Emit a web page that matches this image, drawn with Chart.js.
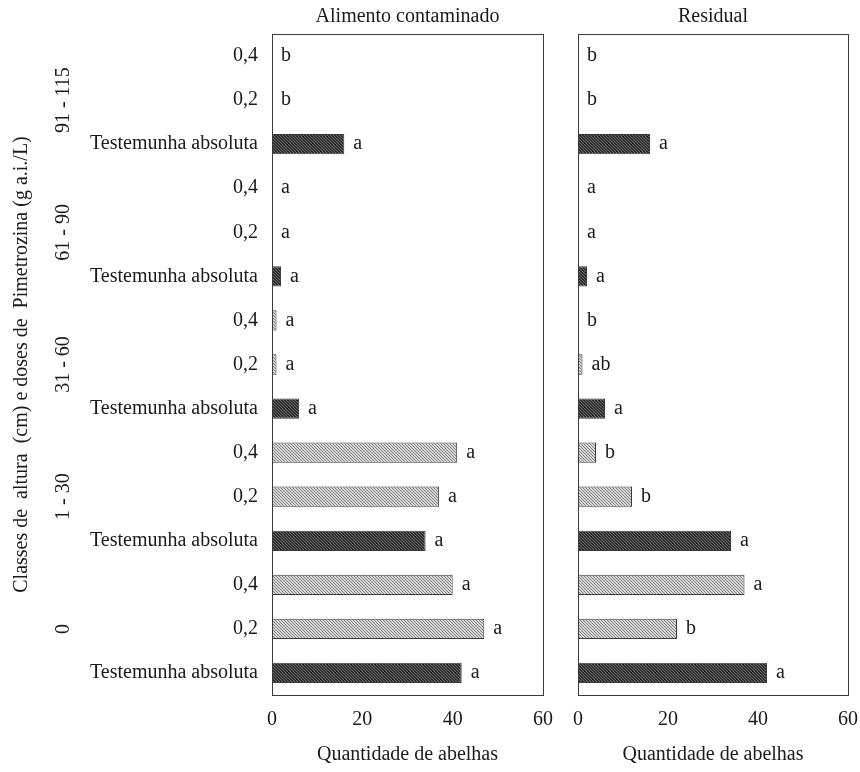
<!DOCTYPE html>
<html>
<head>
<meta charset="utf-8">
<script src="https://cdn.jsdelivr.net/npm/chart.js@4.4.1/dist/chart.umd.min.js"></script>
<style>
  html, body { margin: 0; padding: 0; background: #fff; overflow: hidden; }
  #wrap { position: relative; width: 860px; height: 772px; }
  #chartA { position: absolute; left: 0; top: 0; }
  #chartB { position: absolute; left: 560px; top: 0; }
</style>
</head>
<body>
<div id="wrap">
  <canvas id="chartA" width="560" height="772"></canvas>
  <canvas id="chartB" width="300" height="772"></canvas>
</div>
<script>
// rows listed top to bottom, as in the figure
const doses = [
  '0,4', '0,2', 'Testemunha absoluta',
  '0,4', '0,2', 'Testemunha absoluta',
  '0,4', '0,2', 'Testemunha absoluta',
  '0,4', '0,2', 'Testemunha absoluta',
  '0,4', '0,2', 'Testemunha absoluta'
];
const heightClasses = ['91 - 115', '61 - 90', '31 - 60', '1 - 30', '0'];

const alimento = [0, 0, 16, 0, 0, 2, 1, 1, 6, 41, 37, 34, 40, 47, 42];
const residual = [0, 0, 16, 0, 0, 2, 0, 1, 6, 4, 12, 34, 37, 22, 42];

const lettersAlimento = ['b', 'b', 'a', 'a', 'a', 'a', 'a', 'a', 'a', 'a', 'a', 'a', 'a', 'a', 'a'];
const lettersResidual = ['b', 'b', 'a', 'a', 'a', 'a', 'b', 'ab', 'a', 'b', 'b', 'a', 'a', 'b', 'a'];

const xTicks = [0, 20, 40, 60];

const FONT = '"Liberation Serif", "Times New Roman", serif';
const TXT = '#1a1a1a';

function hatch(bg, fg) {
  const c = document.createElement('canvas');
  c.width = 3; c.height = 3;
  const g = c.getContext('2d');
  g.fillStyle = bg;
  g.fillRect(0, 0, 3, 3);
  g.strokeStyle = fg;
  g.lineWidth = 1;
  g.beginPath();
  g.moveTo(-1, -1); g.lineTo(4, 4);
  g.moveTo(-1, 2); g.lineTo(1, 4);
  g.moveTo(2, -1); g.lineTo(4, 1);
  g.stroke();
  return g.createPattern(c, 'repeat');
}

const darkFill = hatch('#2c2c2c', '#6e6e6e');
const lightFill = hatch('#d9d9d9', '#7e7e7e');
const barColors = doses.map(d => d === 'Testemunha absoluta' ? darkFill : lightFill);

// frame, panel title, x title and significance letters
const panelPlugin = {
  id: 'panel',
  afterDatasetsDraw(chart, args, opts) {
    const ctx = chart.ctx, a = chart.chartArea;
    ctx.save();
    ctx.strokeStyle = '#3a3a3a';
    ctx.lineWidth = 1;
    ctx.strokeRect(Math.round(a.left) + 0.5, Math.round(a.top) + 0.5,
      Math.round(a.right - a.left), Math.round(a.bottom - a.top));

    ctx.fillStyle = TXT;
    ctx.font = '20px ' + FONT;
    ctx.textAlign = 'left';
    ctx.textBaseline = 'middle';
    chart.getDatasetMeta(0).data.forEach((bar, i) => {
      ctx.fillText(opts.letters[i], Math.max(bar.x, bar.base) + 9, bar.y);
    });

    ctx.textAlign = 'center';
    ctx.fillText(opts.title, (a.left + a.right) / 2, 17);
    ctx.fillText('Quantidade de abelhas', (a.left + a.right) / 2, 755);
    ctx.restore();
  }
};

// rotated height-class labels and the y title (left panel only)
const groupPlugin = {
  id: 'groups',
  afterDraw(chart) {
    const ctx = chart.ctx, a = chart.chartArea, y = chart.scales.y;
    ctx.save();
    ctx.fillStyle = TXT;
    ctx.font = '20px ' + FONT;
    ctx.textAlign = 'center';
    ctx.textBaseline = 'middle';
    heightClasses.forEach((g, k) => {
      const py = y.getPixelForValue(k * 3 + 1);
      ctx.save();
      ctx.translate(64, py);
      ctx.rotate(-Math.PI / 2);
      ctx.fillText(g, 0, 0);
      ctx.restore();
    });
    ctx.translate(22, (a.top + a.bottom) / 2);
    ctx.rotate(-Math.PI / 2);
    ctx.fillText('Classes de  altura  (cm) e doses de  Pimetrozina (g a.i./L)', 0, 0);
    ctx.restore();
  }
};

function makeChart(id, values, letters, title, yWidth, padRight, showLabels) {
  return new Chart(document.getElementById(id), {
    type: 'bar',
    data: {
      labels: doses,
      datasets: [{
        data: values,
        backgroundColor: barColors,
        borderColor: '#3a3a3a',
        borderWidth: 1,
        barPercentage: 0.46,
        categoryPercentage: 1
      }]
    },
    options: {
      indexAxis: 'y',
      responsive: false,
      animation: false,
      layout: { padding: { top: 34, right: padRight, left: 0, bottom: 0 } },
      plugins: {
        legend: { display: false },
        tooltip: { enabled: false },
        panel: { letters: letters, title: title }
      },
      scales: {
        x: {
          min: 0,
          max: 60,
          afterBuildTicks(s) { s.ticks = xTicks.map(v => ({ value: v })); },
          ticks: { padding: 13, color: TXT, font: { family: FONT, size: 20 }, maxRotation: 0 },
          grid: { display: false, drawTicks: false },
          border: { display: false },
          afterFit(s) { s.height = 77; s.paddingLeft = 0; s.paddingRight = 0; }
        },
        y: {
          ticks: { display: showLabels, autoSkip: false, padding: 14, color: TXT, font: { family: FONT, size: 20 } },
          grid: { display: false, drawTicks: false },
          border: { display: false },
          afterFit(s) { s.width = yWidth; }
        }
      }
    },
    plugins: showLabels ? [panelPlugin, groupPlugin] : [panelPlugin]
  });
}

makeChart('chartA', alimento, lettersAlimento, 'Alimento contaminado', 272, 17, true);
makeChart('chartB', residual, lettersResidual, 'Residual', 18, 12, false);
</script>
</body>
</html>
